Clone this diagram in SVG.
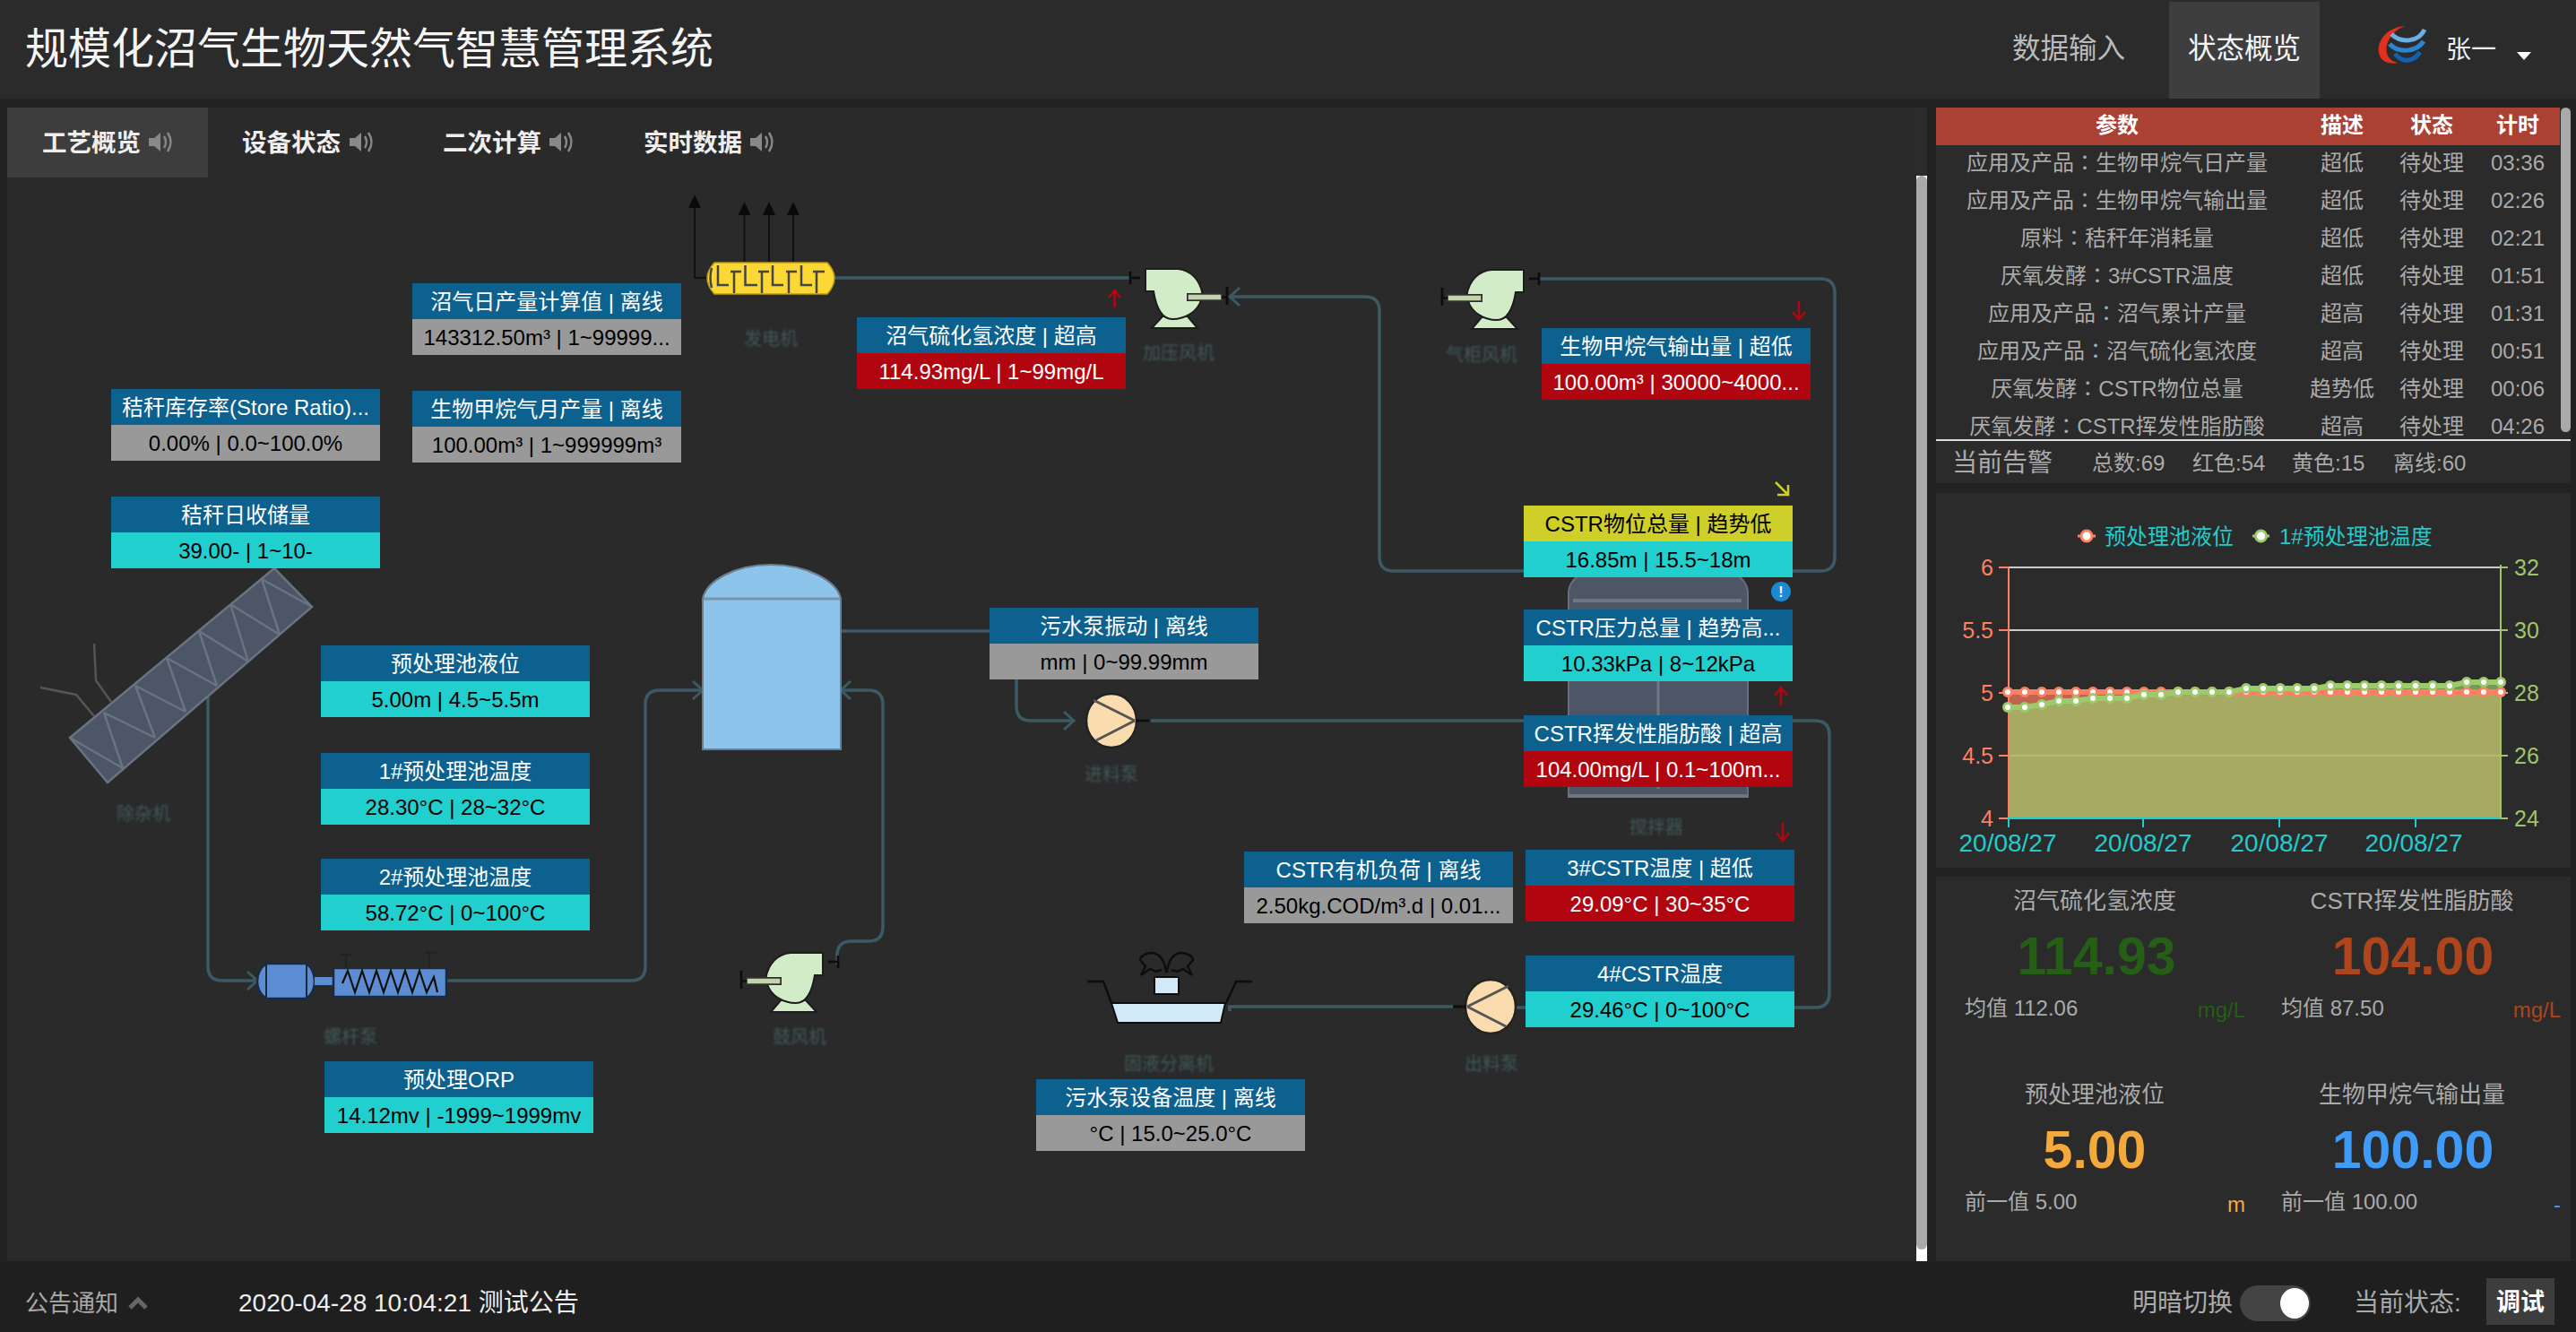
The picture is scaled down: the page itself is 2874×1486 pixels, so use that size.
<svg xmlns="http://www.w3.org/2000/svg" xmlns:xlink="http://www.w3.org/1999/xlink" width="2874" height="1486" viewBox="0 0 2874 1486">
<style>
text{font-family:"Liberation Sans","Noto Sans CJK SC",sans-serif;dominant-baseline:central}
.c{font-family:"Liberation Sans","Noto Sans CJK TC",sans-serif}
.m{text-anchor:middle}.e{text-anchor:end}
.h{fill:#0c618f}.t{fill:#22cfcf}.g{fill:#999}.r{fill:#b10610}.y{fill:#cfcf2a}
.ct{font-size:24px;text-anchor:middle;fill:#fff}.ck{font-size:24px;text-anchor:middle;fill:#000}
.pipe{fill:none;stroke:#3c5a64;stroke-width:3.5}
.tab{font-size:27.5px;font-weight:bold;fill:#eee}
.lab{font-size:20px;text-anchor:middle;fill:#3f5859;filter:url(#soft)}
.tb{font-size:24px;fill:#aaa;text-anchor:middle}
.th{font-size:24px;font-weight:bold;fill:#fff;text-anchor:middle}
.al{font-size:24px;fill:#aaa}
.st{font-size:26px;fill:#aaa;text-anchor:middle}
.big{font-size:59px;font-weight:bold;text-anchor:middle}
.sm{font-size:24px;fill:#aaa}
.lt{font-size:25px;fill:#ff7f62;text-anchor:end}
.rt{font-size:25px;fill:#a0c46a}
.xt{font-size:28px;fill:#22cccc;text-anchor:middle}
.ind{fill:none;stroke:#b10610;stroke-width:2.5}
.grid{stroke:#ccc;stroke-width:2}
</style>
<defs>
<filter id="soft" x="-10%" y="-10%" width="120%" height="120%"><feGaussianBlur stdDeviation="0.8"/></filter>
<filter id="img" x="-5%" y="-5%" width="110%" height="110%"><feGaussianBlur stdDeviation="0.5"/></filter>
<marker id="ch" markerUnits="userSpaceOnUse" markerWidth="16" markerHeight="24" refX="13" refY="12" orient="auto"><path d="M2 2 L13 12 L2 22" fill="none" stroke="#3c5a64" stroke-width="3"/></marker>
<marker id="pr" markerUnits="userSpaceOnUse" markerWidth="14" markerHeight="14" refX="7" refY="7"><circle cx="7" cy="7" r="4.5" fill="#fff" stroke="#ff7f62" stroke-width="3"/></marker>
<marker id="pg" markerUnits="userSpaceOnUse" markerWidth="14" markerHeight="14" refX="7" refY="7"><circle cx="7" cy="7" r="4.5" fill="#fff" stroke="#9bcb6b" stroke-width="3"/></marker>
<g id="spk"><path d="M0 9H6L13 3V24L6 18H0Z" fill="#888"/><path d="M17 7Q21 13.500 17 20M21 3Q28 13.500 21 24" fill="none" stroke="#888" stroke-width="2.500"/></g>
<g id="blower" filter="url(#img)">
<path d="M-3 5V19M-3 12H8" stroke="#111" stroke-width="2.500" fill="none"/>
<path d="M33 55L21 68H72L61 55Z" fill="#d2ecc8" stroke="#1c1c1c" stroke-width="2"/>
<path d="M14 2H50C64 3 75 14 77.500 30L61 30V37H76C72 50 58 58 44 58C32 58 26 46 23 27H14Z" fill="#d2ecc8" stroke="#1c1c1c" stroke-width="2"/>
<rect x="61" y="30" width="38" height="7" fill="#c4d2ae" stroke="#333" stroke-width="1.500"/>
<path d="M105 22V42M99 33.500H105" stroke="#111" stroke-width="2.500"/>
</g>
<g id="pump" filter="url(#img)"><ellipse cx="0" cy="0" rx="28" ry="30" fill="#fbdcae" stroke="#222" stroke-width="2.500"/><path d="M26 0L-20 -23M26 0L-17 22" stroke="#555" stroke-width="3" fill="none"/><path d="M27 0H42" stroke="#111" stroke-width="3"/></g>
</defs>

<rect id="page" width="2874" height="1486" fill="#222"/>
<g id="header">
<rect width="2874" height="110" fill="#2b2b2b"/>
<text x="28" y="54" font-size="48" fill="#f5f5f5">规模化沼气生物天然气智慧管理系统</text>
<text x="2245" y="54" font-size="31.500" fill="#bbb">数据输入</text>
<rect x="2420" y="2" width="168" height="108" fill="#3e3e3e"/>
<text x="2441" y="54" font-size="31.500" fill="#f5f5f5">状态概览</text>
<g id="logo">
<path d="M2684 29C2660 30 2650 50 2655 62C2658 70 2668 72 2676 70C2662 68 2660 55 2665 45C2669 37 2676 31 2684 29Z" fill="#e03020"/>
<path d="M2668 38C2678 48 2698 48 2705 33" fill="none" stroke="#6ab0e0" stroke-width="5"/>
<path d="M2666 49C2676 60 2696 58 2704 46" fill="none" stroke="#2a86d0" stroke-width="5"/>
<path d="M2672 60C2680 70 2692 70 2700 58" fill="none" stroke="#1460b0" stroke-width="5"/>
</g>
<text x="2729" y="55" font-size="28" fill="#eee">张一</text>
<path d="M2808 58H2824L2816 67Z" fill="#fff"/>
</g>

<g id="main">
<rect x="8" y="120" width="2130" height="1287" fill="#2a2a2a"/>
<rect x="2138" y="120" width="12" height="1287" fill="#fff"/>
<rect x="2138" y="120" width="12" height="76" fill="#2b2b2b"/>
<rect x="2138" y="196" width="12" height="1198" rx="6" fill="#aaa"/>
<rect x="8" y="120" width="224" height="78" fill="#3d3d3d"/>
<text x="47" y="159" class="tab">工艺概览</text><use href="#spk" x="166" y="145"/>
<text x="270" y="159" class="tab">设备状态</text><use href="#spk" x="390" y="145"/>
<text x="494" y="159" class="tab">二次计算</text><use href="#spk" x="613" y="145"/>
<text x="718" y="159" class="tab">实时数据</text><use href="#spk" x="837" y="145"/>
</g>

<g id="connectors">
<path class="pipe" marker-end="url(#ch)" d="M232 775V1078Q232 1094 248 1094H287"/>
<path class="pipe" marker-end="url(#ch)" d="M497 1094H704Q720 1094 720 1078V786Q720 770 736 770H784"/>
<path class="pipe" marker-end="url(#ch)" d="M934 1076V1066Q934 1050 950 1050H969Q985 1050 985 1034V786Q985 770 969 770H938"/>
<path class="pipe" marker-end="url(#ch)" d="M937 704H1118Q1134 704 1134 720V788Q1134 804 1150 804H1198"/>
<path class="pipe" d="M1284 804H2025Q2041 804 2041 820V1108Q2041 1124 2025 1124H1690"/>
<path class="pipe" d="M1621 1123H1370M1372 1123V1128" stroke-width="3"/>
<path class="pipe" d="M931 310H1262"/>
<path class="pipe" marker-end="url(#ch)" d="M1716 311H2031Q2047 311 2047 327V621Q2047 637 2031 637H1555Q1539 637 1539 621V347Q1539 331 1523 331H1372"/>
<g fill="none" stroke="#111" stroke-width="2">
<path d="M789 310H775V232M830.500 292V240M858 292V240M885 292V240"/>
</g>
<path d="M775 217L782 232H768ZM830.500 225L837.500 240H823.500ZM858 225L865 240H851ZM885 225L892 240H878Z" fill="#0a0a0a"/>
</g>

<g id="node-conveyor">
<path d="M78 823L306 634L348 677L120 873Z" fill="#4d5666" stroke="#6a7382" stroke-width="2.500"/>
<path d="M78 823L137 857M116 795L137 857M116 795L173 823M151 765L173 823M151 765L207 794M186 734L207 794M186 734L242 765M222 704L242 765M222 704L277 738M257 674L277 738M257 674L312 708M292 646L312 708M292 646L348 677" fill="none" stroke="#6a7382" stroke-width="2.500"/>
<path d="M105 718L107 759L124 783M45 767L85 775L105 799" fill="none" stroke="#555" stroke-width="2.500"/>
<text x="160" y="908" class="lab">除杂机</text>
</g>
<g id="node-screw-pump">
<g filter="url(#img)">
<path d="M297 1075H342Q351 1082 351 1095Q351 1107 342 1114H297Q287 1107 287 1095Q287 1082 297 1075Z" fill="#5b8dd2" stroke="#1c2a40" stroke-width="2.500"/>
<path d="M297 1076V1113M342 1076V1113" stroke="#1c2a40" stroke-width="2"/>
<rect x="351" y="1090" width="21" height="9" fill="#5b8dd2"/>
<rect x="372" y="1080" width="126" height="32" fill="#5b8dd2" stroke="#1c2a40" stroke-width="2.500"/>
<path d="M382 1097L388 1083L396 1107L404 1083L412 1107L420 1083L428 1107L436 1083L444 1107L452 1083L460 1107L468 1083L476 1107L484 1090L488 1107" fill="none" stroke="#111" stroke-width="2.200"/>
<path d="M386 1080V1065M380 1065H393M479 1080V1063M474 1063H487" stroke="#222" stroke-width="2.500" fill="none"/>
</g>
<text x="391" y="1157" class="lab">螺杆泵</text>
</g>
<g id="node-tank">
<path d="M784 668C788 648 820 630 860 630C900 630 934 648 938 668V836H784Z" fill="#8cc4ec" stroke="#6c7f8e" stroke-width="2"/>
<path d="M785 668H937" stroke="#7a94aa" stroke-width="3"/>
</g>
<g id="node-blower-air">
<use href="#blower" transform="translate(932 1061) scale(-1 1)"/>
<text x="892" y="1157" class="lab">鼓风机</text>
</g>
<g id="node-generator">
<g filter="url(#img)">
<path d="M797 293H923Q931 302 931 310Q931 319 923 328H797Q789 319 789 310Q789 302 797 293Z" fill="#fdd835" stroke="#b89a1c" stroke-width="1.500"/>
<path d="M794 299Q791 310 794 321M801 296V318H813M831.500 296V318H845M862 296V318H874M894 296V318H906M815 303H827M819 303V327M846 303H858M850 303V327M877 303H889M880 303V327M907 303H920M911 303V327" fill="none" stroke="#444" stroke-width="2.500"/>
</g>
<text x="860" y="378" class="lab">发电机</text>
</g>
<g id="node-blower-pressure">
<use href="#blower" x="1264" y="298"/>
<text x="1315" y="394" class="lab">加压风机</text>
</g>
<g id="node-blower-gas">
<use href="#blower" transform="translate(1714 299) scale(-1 1)"/>
<text x="1653" y="396" class="lab">气柜风机</text>
</g>
<g id="node-feed-pump">
<use href="#pump" x="1240" y="804"/>
<text x="1240" y="864" class="lab">进料泵</text>
</g>
<g id="node-discharge-pump">
<use href="#pump" transform="translate(1663 1123) scale(-1 1)"/>
<path d="M1635 1123H1621" stroke="#111" stroke-width="3"/>
<text x="1664" y="1187" class="lab">出料泵</text>
</g>
<g id="node-separator">
<g filter="url(#img)">
<path d="M1240 1119H1367L1362 1141H1247Z" fill="#d0ebf7" stroke="#111" stroke-width="2"/>
<path d="M1213 1095H1231L1240 1119M1397 1095H1379L1368 1119" fill="none" stroke="#111" stroke-width="2.500"/>
<rect x="1288" y="1090" width="27" height="19" fill="#d0ebf7" stroke="#111" stroke-width="2"/>
<path d="M1301 1085C1300 1070 1292 1063 1285 1063C1277 1063 1272 1068 1272 1071L1278 1078L1273 1088L1283 1081L1290 1084L1296 1082M1302 1085C1303 1070 1311 1063 1318 1063C1326 1063 1331 1068 1331 1071L1325 1078L1330 1088L1320 1081L1313 1084L1307 1082" fill="none" stroke="#111" stroke-width="2.500"/>
</g>
<text x="1304" y="1187" class="lab">固液分离机</text>
</g>
<g id="node-stirrer">
<path d="M1750 660C1752 640 1780 625 1850 625C1920 625 1948 640 1950 660V889H1750Z" fill="#4d5666" stroke="#666f7d" stroke-width="2"/>
<path d="M1755 670H1943" stroke="#6f7683" stroke-width="4"/>
<path d="M1850 760V880" stroke="#6f7683" stroke-width="3"/>
<path d="M1750 888H1950" stroke="#6f7683" stroke-width="4"/>
<text x="1848" y="923" class="lab">搅拌器</text>
</g>

<g id="card-1"><rect class="h" x="460" y="316" width="300" height="40"/><rect class="g" x="460" y="356" width="300" height="40"/><text class="ct" x="610" y="336">沼气日产量计算值 | 离线</text><text class="ck" x="610" y="376">143312.50m³ | 1~99999...</text></g>
<g id="card-2"><rect class="h" x="124" y="434" width="300" height="40"/><rect class="g" x="124" y="474" width="300" height="40"/><text class="ct" x="274" y="454">秸秆库存率(Store Ratio)...</text><text class="ck" x="274" y="494">0.00% | 0.0~100.0%</text></g>
<g id="card-3"><rect class="h" x="460" y="436" width="300" height="40"/><rect class="g" x="460" y="476" width="300" height="40"/><text class="ct" x="610" y="456">生物甲烷气月产量 | 离线</text><text class="ck" x="610" y="496">100.00m³ | 1~999999m³</text></g>
<g id="card-4"><rect class="h" x="124" y="554" width="300" height="40"/><rect class="t" x="124" y="594" width="300" height="40"/><text class="ct" x="274" y="574">秸秆日收储量</text><text class="ck" x="274" y="614">39.00- | 1~10-</text></g>
<g id="card-5"><rect class="h" x="358" y="720" width="300" height="40"/><rect class="t" x="358" y="760" width="300" height="40"/><text class="ct" x="508" y="740">预处理池液位</text><text class="ck" x="508" y="780">5.00m | 4.5~5.5m</text></g>
<g id="card-6"><rect class="h" x="358" y="840" width="300" height="40"/><rect class="t" x="358" y="880" width="300" height="40"/><text class="ct" x="508" y="860">1#预处理池温度</text><text class="ck" x="508" y="900">28.30°C | 28~32°C</text></g>
<g id="card-7"><rect class="h" x="358" y="958" width="300" height="40"/><rect class="t" x="358" y="998" width="300" height="40"/><text class="ct" x="508" y="978">2#预处理池温度</text><text class="ck" x="508" y="1018">58.72°C | 0~100°C</text></g>
<g id="card-8"><rect class="h" x="362" y="1184" width="300" height="40"/><rect class="t" x="362" y="1224" width="300" height="40"/><text class="ct" x="512" y="1204">预处理ORP</text><text class="ck" x="512" y="1244">14.12mv | -1999~1999mv</text></g>
<g id="card-9"><rect class="h" x="956" y="354" width="300" height="40"/><rect class="r" x="956" y="394" width="300" height="40"/><text class="ct" x="1106" y="374">沼气硫化氢浓度 | 超高</text><text class="ct" x="1106" y="414">114.93mg/L | 1~99mg/L</text><path class="ind" d="M1243.500 343V325M1237 332L1243.500 324L1250 332"/></g>
<g id="card-10"><rect class="h" x="1720" y="366" width="300" height="40"/><rect class="r" x="1720" y="406" width="300" height="40"/><text class="ct" x="1870" y="386">生物甲烷气输出量 | 超低</text><text class="ct" x="1870" y="426">100.00m³ | 30000~4000...</text><path class="ind" d="M2007 336V355M2000 348L2007 356L2014 348"/></g>
<g id="card-11"><rect class="y" x="1700" y="564" width="300" height="40"/><rect class="t" x="1700" y="604" width="300" height="40"/><text class="ck" x="1850" y="584">CSTR物位总量 | 趋势低</text><text class="ck" x="1850" y="624">16.85m | 15.5~18m</text><path d="M1981 538L1995 552M1995 541V552H1983" fill="none" stroke="#cfcf2a" stroke-width="2.500"/></g>
<g id="card-12"><rect class="h" x="1700" y="680" width="300" height="40"/><rect class="t" x="1700" y="720" width="300" height="40"/><text class="ct" x="1850" y="700">CSTR压力总量 | 趋势高...</text><text class="ck" x="1850" y="740">10.33kPa | 8~12kPa</text><circle cx="1987" cy="660" r="11" fill="#1b8ad3"/><text x="1987" y="660" font-size="16" font-weight="bold" fill="#fff" class="m">!</text><path class="ind" d="M1987 787V768M1980 776L1987 767L1994 776"/></g>
<g id="card-13"><rect class="h" x="1700" y="798" width="300" height="40"/><rect class="r" x="1700" y="838" width="300" height="40"/><text class="ct" x="1850" y="818">CSTR挥发性脂肪酸 | 超高</text><text class="ct" x="1850" y="858">104.00mg/L | 0.1~100m...</text></g>
<g id="card-14"><rect class="h" x="1104" y="678" width="300" height="40"/><rect class="g" x="1104" y="718" width="300" height="40"/><text class="ct" x="1254" y="698">污水泵振动 | 离线</text><text class="ck" x="1254" y="738">mm | 0~99.99mm</text></g>
<g id="card-15"><rect class="h" x="1388" y="950" width="300" height="40"/><rect class="g" x="1388" y="990" width="300" height="40"/><text class="ct" x="1538" y="970">CSTR有机负荷 | 离线</text><text class="ck" x="1538" y="1010">2.50kg.COD/m³.d | 0.01...</text></g>
<g id="card-16"><rect class="h" x="1702" y="948" width="300" height="40"/><rect class="r" x="1702" y="988" width="300" height="40"/><text class="ct" x="1852" y="968">3#CSTR温度 | 超低</text><text class="ct" x="1852" y="1008">29.09°C | 30~35°C</text><path class="ind" d="M1989 918V937M1982 929L1989 938L1996 929"/></g>
<g id="card-17"><rect class="h" x="1702" y="1066" width="300" height="40"/><rect class="t" x="1702" y="1106" width="300" height="40"/><text class="ct" x="1852" y="1086">4#CSTR温度</text><text class="ck" x="1852" y="1126">29.46°C | 0~100°C</text></g>
<g id="card-18"><rect class="h" x="1156" y="1204" width="300" height="40"/><rect class="g" x="1156" y="1244" width="300" height="40"/><text class="ct" x="1306" y="1224">污水泵设备温度 | 离线</text><text class="ck" x="1306" y="1264">°C | 15.0~25.0°C</text></g>

<g id="alarm-table">
<rect x="2160" y="120" width="696" height="372" fill="#2b2b2b"/>
<rect x="2856" y="120" width="12" height="372" fill="#2b2b2b"/>
<rect x="2857" y="120" width="11" height="362" rx="5.500" fill="#aaa"/>
<rect x="2160" y="120" width="696" height="42" fill="#ab4133"/>
<text class="th" x="2362" y="139">参数</text><text class="th" x="2613" y="139">描述</text><text class="th" x="2713" y="139">状态</text><text class="th" x="2809" y="139">计时</text>
<text class="tb" x="2362" y="181">应用及产品<tspan class="c">：</tspan>生物甲烷气日产量</text><text class="tb" x="2613" y="181">超低</text><text class="tb" x="2713" y="181">待处理</text><text class="tb" x="2809" y="181">03:36</text>
<text class="tb" x="2362" y="223">应用及产品<tspan class="c">：</tspan>生物甲烷气输出量</text><text class="tb" x="2613" y="223">超低</text><text class="tb" x="2713" y="223">待处理</text><text class="tb" x="2809" y="223">02:26</text>
<text class="tb" x="2362" y="265">原料<tspan class="c">：</tspan>秸秆年消耗量</text><text class="tb" x="2613" y="265">超低</text><text class="tb" x="2713" y="265">待处理</text><text class="tb" x="2809" y="265">02:21</text>
<text class="tb" x="2362" y="307">厌氧发酵<tspan class="c">：</tspan>3#CSTR温度</text><text class="tb" x="2613" y="307">超低</text><text class="tb" x="2713" y="307">待处理</text><text class="tb" x="2809" y="307">01:51</text>
<text class="tb" x="2362" y="349">应用及产品<tspan class="c">：</tspan>沼气累计产量</text><text class="tb" x="2613" y="349">超高</text><text class="tb" x="2713" y="349">待处理</text><text class="tb" x="2809" y="349">01:31</text>
<text class="tb" x="2362" y="391">应用及产品<tspan class="c">：</tspan>沼气硫化氢浓度</text><text class="tb" x="2613" y="391">超高</text><text class="tb" x="2713" y="391">待处理</text><text class="tb" x="2809" y="391">00:51</text>
<text class="tb" x="2362" y="433">厌氧发酵<tspan class="c">：</tspan>CSTR物位总量</text><text class="tb" x="2613" y="433">趋势低</text><text class="tb" x="2713" y="433">待处理</text><text class="tb" x="2809" y="433">00:06</text>
<text class="tb" x="2362" y="475">厌氧发酵<tspan class="c">：</tspan>CSTR挥发性脂肪酸</text><text class="tb" x="2613" y="475">超高</text><text class="tb" x="2713" y="475">待处理</text><text class="tb" x="2809" y="475">04:26</text>
<rect x="2160" y="490" width="708" height="2" fill="#ddd"/>
<rect x="2160" y="492" width="708" height="47" fill="#2b2b2b"/>
<text x="2178" y="516" font-size="28" fill="#aaa">当前告警</text>
<text class="al" x="2334" y="516">总数:69</text><text class="al" x="2446" y="516">红色:54</text><text class="al" x="2557" y="516">黄色:15</text><text class="al" x="2670" y="516">离线:60</text>
</g>

<g id="chart">
<rect x="2160" y="550" width="708" height="418" fill="#2b2b2b"/>
<path d="M2318 598H2338" stroke="#ff7f62" stroke-width="3"/><circle cx="2328" cy="598" r="6" fill="#fff" stroke="#ff7f62" stroke-width="3"/>
<text x="2348" y="598" font-size="24" fill="#22cccc">预处理池液位</text>
<path d="M2513 598H2532" stroke="#9bcb6b" stroke-width="3"/><circle cx="2522.500" cy="598" r="6" fill="#fff" stroke="#9bcb6b" stroke-width="3"/>
<text x="2543" y="598" font-size="24" fill="#22cccc">1#预处理池温度</text>
<path class="grid" d="M2240 633H2790M2240 703H2790M2240 773H2790M2240 843H2790"/>
<path d="M2240 772H2790V913H2240Z" fill="#ff7f62" fill-opacity="0.7"/>
<path d="M2240 789L2259 789L2278 786L2297 782L2316 782L2335 779L2354 779L2373 779L2392 775L2411 775L2430 772L2449 772L2468 772L2487 772L2506 768L2525 768L2544 768L2563 768L2582 768L2600 765L2619 765L2638 765L2657 765L2676 765L2695 765L2714 765L2733 765L2752 761L2771 761L2790 761V913H2240Z" fill="#9bc76b" fill-opacity="0.7"/>
<path d="M2241 633V913" stroke="#ff7f62" stroke-width="2" fill="none"/>
<path d="M2790 630V913" stroke="#a0c46a" stroke-width="2" fill="none"/>
<path d="M2230 633H2241M2230 703H2241M2230 773H2241M2230 843H2241M2230 913H2241" stroke="#ff7f62" stroke-width="2"/>
<path d="M2790 633H2798M2790 703H2798M2790 773H2798M2790 843H2798M2790 913H2798" stroke="#a0c46a" stroke-width="2"/>
<path d="M2240 913H2790M2241 913V923M2391 913V923M2543 913V923M2695 913V923" stroke="#22cccc" stroke-width="2" fill="none"/>
<polyline fill="none" stroke="#ff7f62" stroke-width="6" marker-start="url(#pr)" marker-mid="url(#pr)" marker-end="url(#pr)" points="2240 772 2259 772 2278 772 2297 772 2316 772 2335 772 2354 772 2373 772 2392 772 2411 772 2430 772 2449 772 2468 772 2487 772 2506 772 2525 772 2544 772 2563 772 2582 772 2600 772 2619 772 2638 772 2657 772 2676 772 2695 772 2714 772 2733 772 2752 772 2771 772 2790 772"/>
<polyline fill="none" stroke="#9bcb6b" stroke-width="6" marker-start="url(#pg)" marker-mid="url(#pg)" marker-end="url(#pg)" points="2240 789 2259 789 2278 786 2297 782 2316 782 2335 779 2354 779 2373 779 2392 775 2411 775 2430 772 2449 772 2468 772 2487 772 2506 768 2525 768 2544 768 2563 768 2582 768 2600 765 2619 765 2638 765 2657 765 2676 765 2695 765 2714 765 2733 765 2752 761 2771 761 2790 761"/>
<text class="lt" x="2224" y="633">6</text><text class="lt" x="2224" y="703">5.5</text><text class="lt" x="2224" y="773">5</text><text class="lt" x="2224" y="843">4.5</text><text class="lt" x="2224" y="913">4</text>
<text class="rt" x="2805" y="633">32</text><text class="rt" x="2805" y="703">30</text><text class="rt" x="2805" y="773">28</text><text class="rt" x="2805" y="843">26</text><text class="rt" x="2805" y="913">24</text>
<text class="xt" x="2240" y="940">20/08/27</text><text class="xt" x="2391" y="940">20/08/27</text><text class="xt" x="2543" y="940">20/08/27</text><text class="xt" x="2693" y="940">20/08/27</text>
</g>

<g id="stats">
<rect x="2160" y="978" width="708" height="430" fill="#2b2b2b"/>
<text class="st" x="2337" y="1005">沼气硫化氢浓度</text><text class="big" x="2339" y="1067" fill="#255e15">114.93</text><text class="sm" x="2192" y="1124">均值 112.06</text><text class="sm e" x="2505" y="1126" style="fill:#255e15">mg/L</text>
<text class="st" x="2691" y="1005">CSTR挥发性脂肪酸</text><text class="big" x="2692" y="1067" fill="#ae451c">104.00</text><text class="sm" x="2545" y="1124">均值 87.50</text><text class="sm e" x="2857" y="1126" style="fill:#ae451c">mg/L</text>
<text class="st" x="2337" y="1221">预处理池液位</text><text class="big" x="2337" y="1283" fill="#f4a93b">5.00</text><text class="sm" x="2192" y="1340">前一值 5.00</text><text class="sm e" x="2505" y="1343" style="fill:#f4a93b">m</text>
<text class="st" x="2691" y="1221">生物甲烷气输出量</text><text class="big" x="2692" y="1283" fill="#3f9bfa">100.00</text><text class="sm" x="2545" y="1340">前一值 100.00</text><text class="sm e" x="2857" y="1343" style="fill:#3f9bfa">-</text>
</g>

<g id="footer">
<rect y="1407" width="2874" height="79" fill="#1f1f1f"/>
<text x="28" y="1454" font-size="26" fill="#aaa">公告通知</text>
<path d="M145 1459L154 1450L163 1459" fill="none" stroke="#666" stroke-width="5"/>
<text x="266" y="1453" font-size="28" fill="#eee">2020-04-28 10:04:21 测试公告</text>
<text x="2379" y="1453" font-size="28" fill="#aaa">明暗切换</text>
<rect x="2499" y="1434" width="79" height="40" rx="20" fill="#444"/>
<ellipse cx="2560" cy="1454" rx="16" ry="17" fill="#fff"/>
<text x="2626" y="1453" font-size="28" fill="#aaa">当前状态:</text>
<rect x="2774" y="1426" width="76" height="52" fill="#3d3d3d"/>
<text x="2812" y="1453" font-size="27" font-weight="bold" fill="#fff" class="m">调试</text>
</g>
</svg>
